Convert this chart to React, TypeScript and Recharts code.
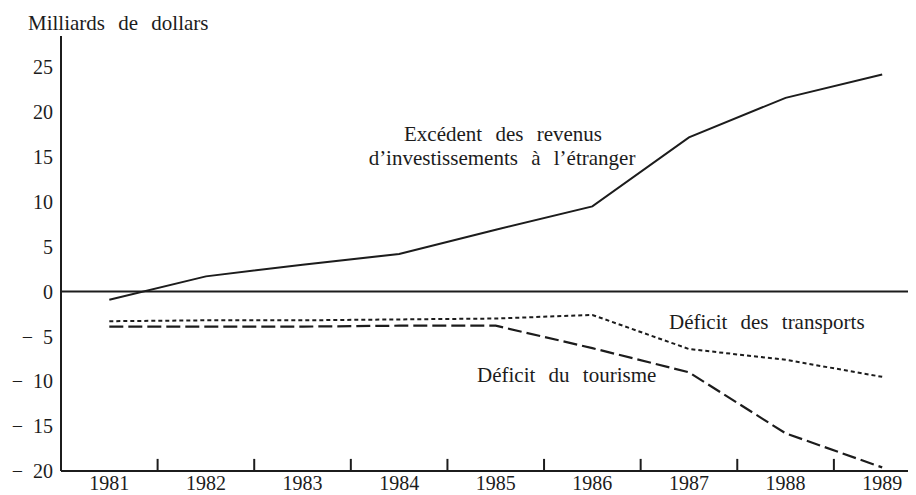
import { LineChart, Line, XAxis, YAxis, ReferenceLine } from 'recharts';

const years = [1981, 1982, 1983, 1984, 1985, 1986, 1987, 1988, 1989];
const investmentIncome = [-0.9, 1.7, 3.0, 4.2, 6.9, 9.5, 17.2, 21.6, 24.2];
const transportDeficit = [-3.3, -3.2, -3.2, -3.1, -3.0, -2.6, -6.4, -7.6, -9.5];
const tourismDeficit = [-3.9, -3.9, -3.9, -3.8, -3.8, -6.3, -9.0, -15.8, -19.6];
const yTicks = [-20, -15, -10, -5, 0, 5, 10, 15, 20, 25];
const yearDividers = [1981.5, 1982.5, 1983.5, 1984.5, 1985.5, 1986.5, 1987.5, 1988.5];

const INK = '#1c1c1c';
const FONT = "'Liberation Serif', 'Times New Roman', serif";

const data = years.map((year, i) => ({
  year,
  income: investmentIncome[i],
  transport: transportDeficit[i],
  tourism: tourismDeficit[i],
}));

// minus sign with a wide gap, as in the printed original
function formatTick(v: number): string {
  return v < 0 ? `\u2212\u2002${-v}` : `${v}`;
}

const textStyle = { fontFamily: FONT, fontSize: 21, fill: INK, wordSpacing: 8 };

export default function App() {
  return (
    <div
      style={{
        position: 'relative',
        width: 916,
        height: 495,
        margin: '-8px 0 0 -8px',
        background: '#fff',
        overflow: 'hidden',
      }}
    >
      <LineChart
        width={916}
        height={495}
        data={data}
        margin={{ top: 36, right: 0, left: 0, bottom: 0 }}
      >
        <XAxis
          dataKey="year"
          type="number"
          domain={[1980.5, 1989.35]}
          allowDataOverflow
          ticks={years}
          interval={0}
          height={24}
          tickLine={false}
          tickMargin={-1}
          axisLine={{ stroke: INK, strokeWidth: 2 }}
          tick={{ fontFamily: FONT, fontSize: 20, fill: INK }}
        />
        <YAxis
          type="number"
          domain={[-20, 28.5]}
          allowDataOverflow
          ticks={yTicks}
          interval={0}
          width={61}
          tickLine={false}
          axisLine={{ stroke: INK, strokeWidth: 2 }}
          tick={{ fontFamily: FONT, fontSize: 20, fill: INK }}
          tickFormatter={formatTick}
        />
        <ReferenceLine y={0} stroke={INK} strokeWidth={2} />
        {yearDividers.map((d) => (
          <ReferenceLine
            key={d}
            segment={[{ x: d, y: -20 }, { x: d, y: -18.65 }]}
            stroke={INK}
            strokeWidth={2}
          />
        ))}
        <Line
          dataKey="income"
          stroke={INK}
          strokeWidth={2}
          dot={false}
          isAnimationActive={false}
        />
        <Line
          dataKey="transport"
          stroke={INK}
          strokeWidth={2}
          strokeDasharray="4 3"
          dot={false}
          isAnimationActive={false}
        />
        <Line
          dataKey="tourism"
          stroke={INK}
          strokeWidth={2.2}
          strokeDasharray="14 5"
          dot={false}
          isAnimationActive={false}
        />
      </LineChart>
      <svg
        width={916}
        height={495}
        style={{ position: 'absolute', left: 0, top: 0, pointerEvents: 'none' }}
      >
        <text x={28} y={30} style={textStyle}>Milliards de dollars</text>
        <text x={503} y={141} textAnchor="middle" style={textStyle}>Excédent des revenus</text>
        <text x={502} y={165} textAnchor="middle" style={textStyle}>d’investissements à l’étranger</text>
        <text x={669} y={329} style={textStyle}>Déficit des transports</text>
        <text x={477} y={382} style={textStyle}>Déficit du tourisme</text>
      </svg>
    </div>
  );
}
